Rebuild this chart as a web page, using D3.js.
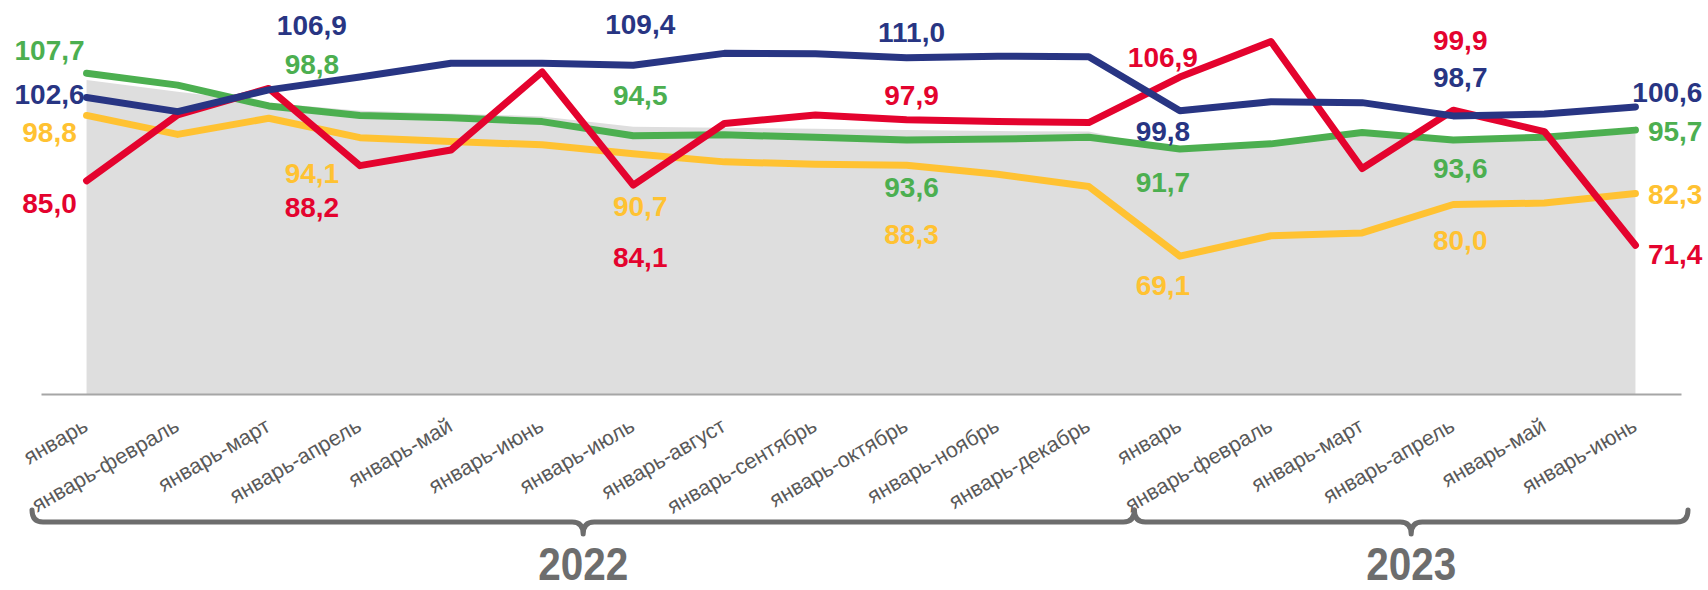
<!DOCTYPE html>
<html>
<head>
<meta charset="utf-8">
<script src="https://cdn.jsdelivr.net/npm/d3@7"></script>
<style>
    body { margin: 0; background: #fff; }
    .axis text { font-family: "Liberation Sans", Arial, sans-serif; font-size: 21.5px; fill: #595959; }
    .valueLabel { font-family: "Liberation Sans", Arial, sans-serif; font-weight: bold; font-size: 28px; }
    .yearLabel { font-family: "Liberation Sans", Arial, sans-serif; font-weight: bold; font-size: 46px; fill: #6d6d6d; }
</style>
</head>
<body>
<script>
//categories on the x axis (cumulative periods)
var categories = ["январь", "январь-февраль", "январь-март", "январь-апрель", "январь-май", "январь-июнь",
    "январь-июль", "январь-август", "январь-сентябрь", "январь-октябрь", "январь-ноябрь", "январь-декабрь",
    "январь", "январь-февраль", "январь-март", "январь-апрель", "январь-май", "январь-июнь"];

//years and the first/last category index they cover
var years = ["2022", "2023"];
var yearStart = [0, 12];
var yearEnd = [11, 17];

//series values
var blueValues = [102.6, 99.6, 104.2, 106.9, 109.8, 109.8, 109.4, 111.9, 111.8, 111.0, 111.3, 111.2, 99.8, 101.7, 101.5, 98.7, 99.1, 100.6];
var redValues = [85.0, 98.9, 104.5, 88.2, 91.5, 108.0, 84.1, 97.1, 98.9, 97.9, 97.5, 97.3, 106.9, 114.4, 87.6, 99.9, 95.4, 71.4];
var greenValues = [107.7, 105.2, 100.8, 98.8, 98.3, 97.5, 94.5, 94.7, 94.2, 93.6, 93.8, 94.2, 91.7, 92.8, 95.2, 93.6, 94.2, 95.7];
var yellowValues = [98.8, 94.8, 98.2, 94.1, 93.3, 92.6, 90.7, 89.0, 88.5, 88.3, 86.4, 83.8, 69.1, 73.4, 74.0, 80.0, 80.3, 82.3];
var grayValues = [106.3, 103.8, 101.5, 99.8, 99.2, 98.6, 96.4, 96.2, 96.0, 95.7, 95.5, 95.4, 91.4, 92.4, 94.8, 93.2, 93.8, 95.0];

//category indexes that carry value labels
var labelIndex = [0, 3, 6, 9, 12, 15, 17];

window.onload = setChart();

function setChart(){
    var width = 1708,
        height = 590;

    var svg = d3.select("body")
        .append("svg")
        .attr("width", width)
        .attr("height", height);

    //band scale over category indexes
    var x = d3.scaleBand()
        .domain(d3.range(categories.length))
        .range([41, 1681])
        .paddingInner(0)
        .paddingOuter(0);

    var y = d3.scaleLinear()
        .domain([40, 120])
        .range([394, 15]);

    var cx = function(i){ return x(i) + x.bandwidth() / 2; };

    //gray background area
    var area = d3.area()
        .x(function(d, i){ return cx(i); })
        .y0(y(40))
        .y1(function(d){ return y(d); });

    svg.append("path")
        .datum(grayValues)
        .attr("d", area)
        .style("fill", "#dedede");

    //x axis
    var xAxis = d3.axisBottom(x)
        .tickSize(0)
        .tickFormat(function(i){ return categories[i]; });

    var axis = svg.append("g")
        .attr("class", "axis")
        .attr("transform", "translate(0," + y(40) + ")")
        .call(xAxis);

    axis.select(".domain")
        .style("stroke", "#a6a6a6")
        .style("stroke-width", 2);

    axis.selectAll(".tick text")
        .attr("x", 0)
        .attr("y", 0)
        .attr("dy", 0)
        .style("text-anchor", "end")
        .attr("transform", "translate(3,36) rotate(-30)");

    //series, drawn bottom to top
    var series = [
        {values: yellowValues, color: "#ffc232", dy: [16.6, 35.3, 52.2, 68.8, 28.9, 35.5, 0.4]},
        {values: greenValues, color: "#4caf50", dy: [-23.3, -51.4, -40.8, 46.9, 32.9, 27.9, 0.7]},
        {values: redValues, color: "#e4032e", dy: [22.2, 41.3, 71.9, -24.7, -20.1, -70.5, 8.5]},
        {values: blueValues, color: "#283583", dy: [-3.4, -51.4, -41.2, -25.6, 20.3, -39.2, -15.2]}
    ];

    //horizontal shift and anchor of each label group
    var labelDx = [-37, -48, 7, 5, -17, 7, 67];
    var labelAnchor = ["middle", "middle", "middle", "middle", "middle", "middle", "end"];

    var line = d3.line()
        .x(function(d, i){ return cx(i); })
        .y(function(d){ return y(d); });

    series.forEach(function(s){
        svg.append("path")
            .datum(s.values)
            .attr("d", line)
            .style("fill", "none")
            .style("stroke", s.color)
            .style("stroke-width", 7)
            .style("stroke-linejoin", "round")
            .style("stroke-linecap", "round");
    });

    //value labels with comma decimals
    var ru = d3.formatLocale({decimal: ",", thousands: " ", grouping: [3], currency: ["", ""]});
    var fmt = ru.format(".1f");

    series.forEach(function(s){
        svg.selectAll(null)
            .data(labelIndex)
            .enter()
            .append("text")
            .attr("class", "valueLabel")
            .attr("x", function(idx, k){ return cx(idx) + labelDx[k]; })
            .attr("y", function(idx, k){ return y(s.values[idx]) + s.dy[k]; })
            .attr("dy", "0.35em")
            .style("text-anchor", function(idx, k){ return labelAnchor[k]; })
            .style("fill", s.color)
            .text(function(idx){ return fmt(s.values[idx]); });
    });

    //year braces
    var braceTop = 510,
        braceLine = 522,
        bracePeak = 534,
        r = 11;

    years.forEach(function(yr, k){
        var x1 = k == 0 ? x(yearStart[k]) - 9 : x(yearStart[k]),
            x2 = k == years.length - 1 ? x(yearEnd[k]) + x.bandwidth() + 7 : x(yearEnd[k]) + x.bandwidth(),
            mid = (x1 + x2) / 2;

        var p = d3.path();
        p.moveTo(x1, braceTop);
        p.quadraticCurveTo(x1, braceLine, x1 + r, braceLine);
        p.lineTo(mid - r, braceLine);
        p.quadraticCurveTo(mid, braceLine, mid, bracePeak);
        p.quadraticCurveTo(mid, braceLine, mid + r, braceLine);
        p.lineTo(x2 - r, braceLine);
        p.quadraticCurveTo(x2, braceLine, x2, braceTop);

        svg.append("path")
            .attr("d", p.toString())
            .style("fill", "none")
            .style("stroke", "#6d6d6d")
            .style("stroke-width", 5)
            .style("stroke-linecap", "round")
            .style("stroke-linejoin", "round");

        svg.append("text")
            .attr("class", "yearLabel")
            .attr("transform", "translate(" + mid + ",580) scale(0.88,1)")
            .style("text-anchor", "middle")
            .text(yr);
    });
};
</script>
</body>
</html>
